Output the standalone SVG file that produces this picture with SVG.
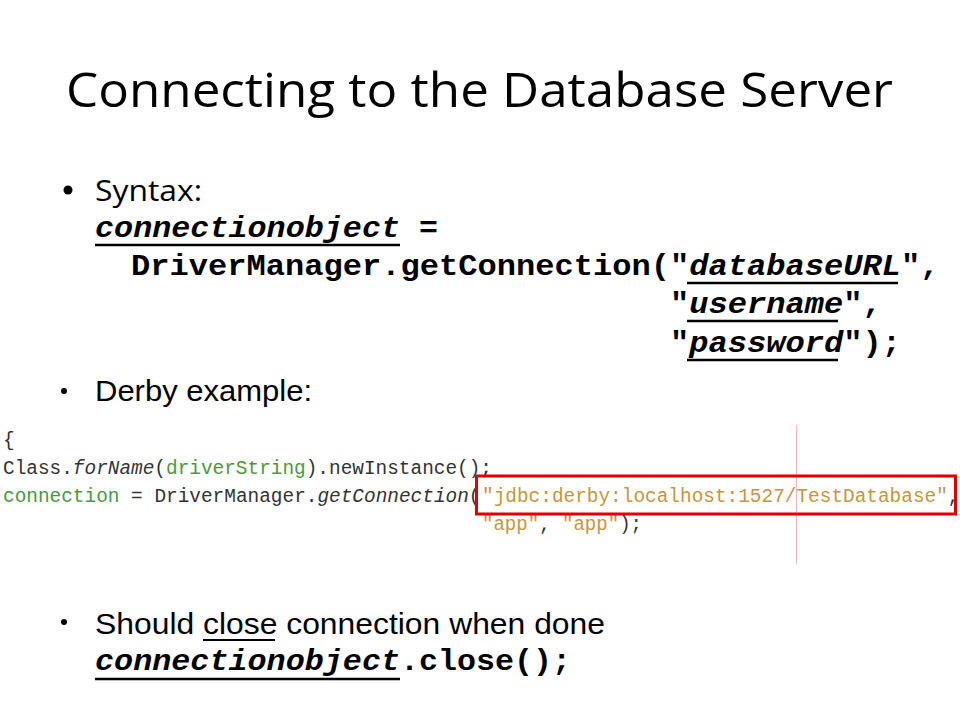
<svg xmlns="http://www.w3.org/2000/svg" width="960" height="720" viewBox="0 0 960 720">
<style>
.title{font-family:"Open Sans","Noto Sans",sans-serif;font-size:48px;fill:#000}
.cal{font-family:"Open Sans","Noto Sans",sans-serif;font-size:30px;fill:#000}
.ar{font-family:"Liberation Sans",Arial,sans-serif;font-size:30px;fill:#000}
.mono{font-family:"Liberation Mono","Courier New",monospace;font-size:30px;font-weight:bold;fill:#000}
.it{font-style:italic}
.code{font-family:"Liberation Mono","Courier New",monospace;font-size:19.4px;fill:#333}
.g{fill:#4a9a3c}
.o{fill:#c8963e}
.ul{stroke:#000;stroke-width:2.5}
</style>
<rect width="960" height="720" fill="#fff"/>
<g id="title">
<text class="title" x="66" y="107" textLength="827" lengthAdjust="spacingAndGlyphs">Connecting to the Database Server</text>
</g>
<g id="syntax">
<circle cx="68" cy="190" r="4.5" fill="#000"/>
<text class="cal" x="95" y="201" textLength="107" lengthAdjust="spacingAndGlyphs">Syntax:</text>
<text class="mono it" x="95" y="237" textLength="305" lengthAdjust="spacingAndGlyphs">connectionobject</text>
<text class="mono" x="419" y="237" textLength="19" lengthAdjust="spacingAndGlyphs">=</text>
<line class="ul" x1="95" y1="245" x2="400" y2="245"/>
<text class="mono" x="131" y="275" textLength="558.25" lengthAdjust="spacingAndGlyphs">DriverManager.getConnection("</text>
<text class="mono it" x="689.25" y="275" textLength="211.75" lengthAdjust="spacingAndGlyphs">databaseURL</text>
<text class="mono" x="901" y="275" textLength="38.5" lengthAdjust="spacingAndGlyphs">",</text>
<line class="ul" x1="687" y1="283" x2="898" y2="283"/>
<text class="mono" x="670" y="313" textLength="19.25" lengthAdjust="spacingAndGlyphs">"</text>
<text class="mono it" x="689.25" y="313" textLength="154" lengthAdjust="spacingAndGlyphs">username</text>
<text class="mono" x="843.25" y="313" textLength="38.5" lengthAdjust="spacingAndGlyphs">",</text>
<line class="ul" x1="687" y1="321" x2="838" y2="321"/>
<text class="mono" x="670" y="352" textLength="19.25" lengthAdjust="spacingAndGlyphs">"</text>
<text class="mono it" x="689.25" y="352" textLength="154" lengthAdjust="spacingAndGlyphs">password</text>
<text class="mono" x="843.25" y="352" textLength="57.75" lengthAdjust="spacingAndGlyphs">");</text>
<line class="ul" x1="687" y1="360" x2="838" y2="360"/>
</g>
<g id="derby">
<circle cx="64" cy="391" r="3" fill="#000"/>
<text class="ar" x="95" y="401" textLength="217" lengthAdjust="spacingAndGlyphs">Derby example:</text>
</g>
<g id="code">
<line x1="796.5" y1="425" x2="796.5" y2="564" stroke="#f2b8b8" stroke-width="1"/>
<text class="code" x="3" y="446">{</text>
<text class="code" x="3" y="474" textLength="489" lengthAdjust="spacingAndGlyphs">Class.<tspan class="it">forName</tspan>(<tspan class="g">driverString</tspan>).newInstance();</text>
<text class="code" x="3" y="502" textLength="477.5" lengthAdjust="spacingAndGlyphs"><tspan class="g">connection</tspan> = DriverManager.<tspan class="it">getConnection</tspan>(</text>
<text class="code" x="482" y="502" textLength="477.5" lengthAdjust="spacingAndGlyphs"><tspan class="o">"jdbc:derby:localhost:1527/TestDatabase"</tspan>,</text>
<text class="code" x="482" y="530" textLength="160" lengthAdjust="spacingAndGlyphs"><tspan class="o">"app"</tspan>, <tspan class="o">"app"</tspan>);</text>
<rect x="476.5" y="476" width="479" height="38" fill="none" stroke="#e00000" stroke-width="3"/>
</g>
<g id="close">
<circle cx="64" cy="622" r="3" fill="#000"/>
<text class="ar" x="95" y="634" textLength="510" lengthAdjust="spacingAndGlyphs">Should close connection when done</text>
<line x1="203" y1="640" x2="275" y2="640" stroke="#000" stroke-width="2"/>
<text class="mono it" x="95" y="670" textLength="305" lengthAdjust="spacingAndGlyphs">connectionobject</text>
<text class="mono" x="400" y="670" textLength="171" lengthAdjust="spacingAndGlyphs">.close();</text>
<line class="ul" x1="95" y1="679" x2="400" y2="679"/>
</g>
</svg>
